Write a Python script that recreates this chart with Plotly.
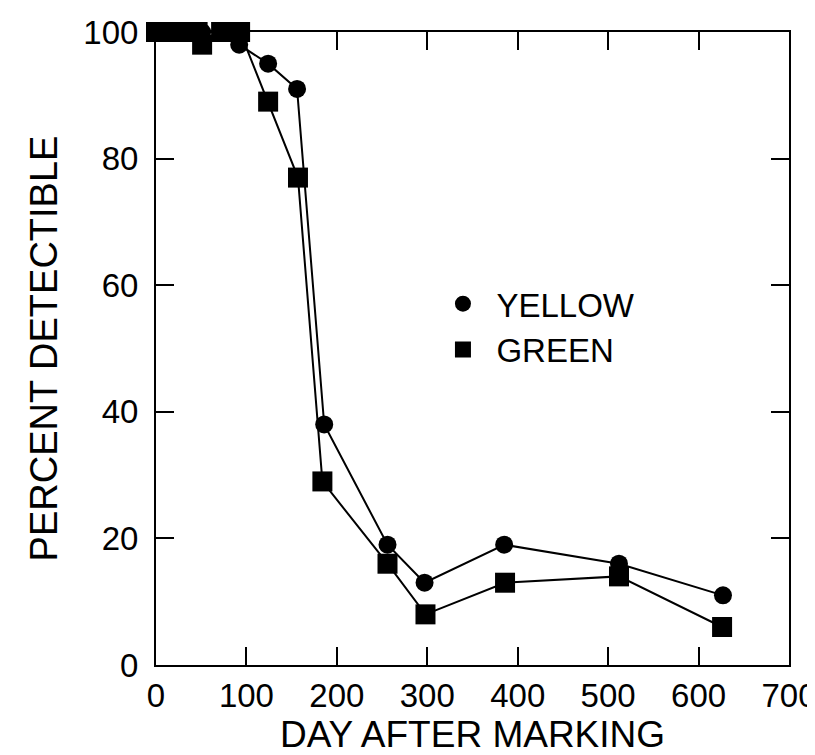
import plotly.graph_objects as go

# Data
yellow_day = [0, 15, 30, 45, 51, 72, 92, 124, 156, 186, 256, 297, 385, 512, 627]
yellow_pct = [100, 100, 100, 100, 100, 100, 98, 95, 91, 38, 19, 13, 19, 16, 11]

green_day = [0, 15, 30, 46, 51, 72, 93, 124, 157, 184, 256, 298, 386, 512, 626]
green_pct = [100, 100, 100, 100, 98, 100, 100, 89, 77, 29, 16, 8, 13, 14, 6]

x_ticks = [0, 100, 200, 300, 400, 500, 600, 700]
y_ticks = [0, 20, 40, 60, 80, 100]

FONT = "Arial, 'Liberation Sans', Helvetica, sans-serif"

fig = go.Figure()

fig.add_trace(go.Scatter(
    x=yellow_day, y=yellow_pct, mode="lines+markers", name="YELLOW",
    line=dict(color="black", width=2),
    marker=dict(symbol="circle", size=18, color="black"),
    cliponaxis=False, showlegend=False,
))
fig.add_trace(go.Scatter(
    x=green_day, y=green_pct, mode="lines+markers", name="GREEN",
    line=dict(color="black", width=2),
    marker=dict(symbol="square", size=20, color="black"),
    cliponaxis=False, showlegend=False,
))
# legend entries (markers only)
fig.add_trace(go.Scatter(x=[None], y=[None], mode="markers", name="YELLOW",
                         marker=dict(symbol="circle", size=18, color="black")))
fig.add_trace(go.Scatter(x=[None], y=[None], mode="markers", name="GREEN",
                         marker=dict(symbol="square", size=18, color="black")))

axis_common = dict(
    showline=True, linecolor="black", linewidth=2, mirror="ticks",
    ticks="inside", ticklen=18, tickwidth=2, tickcolor="black",
    showgrid=False, zeroline=False,
    tickfont=dict(family=FONT, size=33, color="black"),
)

fig.update_xaxes(
    range=[0, 700], tickvals=x_ticks, ticktext=[str(v) for v in x_ticks],
    title=dict(text="DAY AFTER MARKING", font=dict(family=FONT, size=37, color="black"), standoff=8),
    ticklabelstandoff=0,
    **axis_common,
)
fig.update_yaxes(
    range=[0, 100], tickvals=y_ticks, ticktext=[str(v) for v in y_ticks],
    title=dict(text="PERCENT DETECTIBLE", font=dict(family=FONT, size=38, color="black"), standoff=14),
    ticklabelstandoff=9,
    **axis_common,
)

fig.update_layout(
    width=815, height=755,
    margin=dict(l=148, r=34, t=24, b=98, autoexpand=False),
    paper_bgcolor="white", plot_bgcolor="white",
    font=dict(family=FONT, color="black"),
    legend=dict(
        x=0.432, y=0.615, xanchor="left", yanchor="top",
        bgcolor="rgba(0,0,0,0)", borderwidth=0,
        font=dict(family=FONT, size=33, color="black"),
        itemwidth=57,
        tracegroupgap=0,
    ),
)

fig.write_html("out.html")
